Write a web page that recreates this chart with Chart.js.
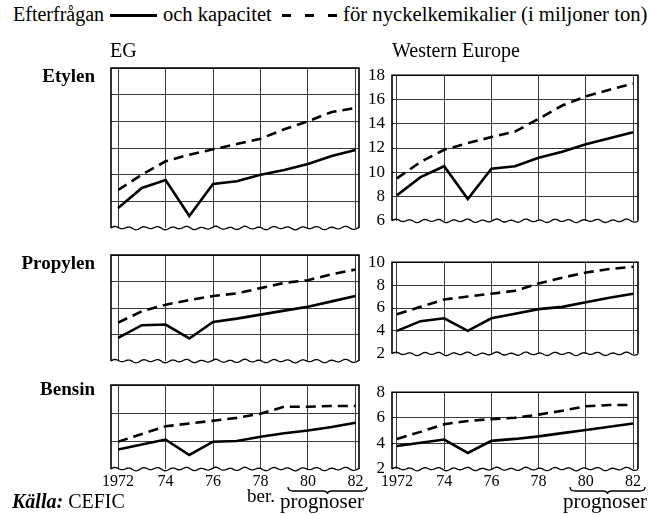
<!DOCTYPE html>
<html>
<head>
<meta charset="utf-8">
<script src="https://cdn.jsdelivr.net/npm/chart.js@4.4.1/dist/chart.umd.min.js"></script>
<style>
  body { margin: 0; background: #fff; }
  #wrap { position: relative; width: 651px; height: 515px; overflow: hidden; font-family: "Liberation Serif", Tinos, "Times New Roman", Times, "DejaVu Serif", serif; color: #000; }
  #wrap canvas { position: absolute; }
  .t { position: absolute; white-space: nowrap; line-height: 1; z-index: 2; }
  .row { font-weight: bold; font-size: 19px; text-align: right; width: 95px; left: 0; }
  .seg { position: absolute; background: #000; height: 3px; z-index: 2; }
  svg { position: absolute; left: 0; top: 0; z-index: 2; }
</style>
</head>
<body>
<div id="wrap">
  <div class="t" style="left:13px;top:4px;font-size:20px">Efterfrågan</div>
  <div class="seg" style="left:110px;top:14px;width:47px;height:2.5px"></div>
  <div class="t" style="left:163px;top:4px;font-size:20.5px">och kapacitet</div>
  <div class="seg" style="left:282px;top:14px;width:9px"></div>
  <div class="seg" style="left:305px;top:14px;width:9px"></div>
  <div class="seg" style="left:328px;top:14px;width:9px"></div>
  <div class="t" style="left:343px;top:4px;font-size:20.7px">för nyckelkemikalier (i miljoner ton)</div>

  <div class="t" style="left:110px;top:40px;font-size:20px">EG</div>
  <div class="t" style="left:392px;top:40px;font-size:20px">Western Europe</div>

  <div class="t row" style="top:66px">Etylen</div>
  <div class="t row" style="top:253px">Propylen</div>
  <div class="t row" style="top:379px">Bensin</div>

  <div class="t" style="left:12px;top:491px;font-size:20px"><b><i>Källa:</i></b> CEFIC</div>
  <div class="t" style="left:247px;top:486px;font-size:19px">ber.</div>
  <div class="t" style="left:280px;top:491px;font-size:21px">prognoser</div>
  <div class="t" style="left:563px;top:491px;font-size:21px">prognoser</div>

  <svg width="651" height="515">
    <path id="brace1" fill="none" stroke="#000" stroke-width="1.3"></path>
    <path id="brace2" fill="none" stroke="#000" stroke-width="1.3"></path>
  </svg>

  <canvas id="egEt"></canvas>
  <canvas id="weEt"></canvas>
  <canvas id="egPr"></canvas>
  <canvas id="wePr"></canvas>
  <canvas id="egBe"></canvas>
  <canvas id="weBe"></canvas>
</div>

<script>
const years = [1972, 1973, 1974, 1975, 1976, 1977, 1978, 1979, 1980, 1981, 1982];
const xTicks = [1972, 1974, 1976, 1978, 1980, 1982];

// Etylen
const egEtylenDemand   = [7.5, 9.0, 9.6, 6.9, 9.3, 9.5, 10.0, 10.35, 10.8, 11.4, 11.85];
const egEtylenCapacity = [8.85, 10.0, 11.0, 11.5, 11.9, 12.3, 12.7, 13.4, 14.0, 14.7, 15.0];
const weEtylenDemand   = [8.1, 9.6, 10.5, 7.8, 10.3, 10.5, 11.2, 11.7, 12.3, 12.8, 13.3];
const weEtylenCapacity = [9.5, 10.85, 11.85, 12.4, 12.9, 13.35, 14.4, 15.5, 16.25, 16.8, 17.3];
const etylenTicks = [6, 8, 10, 12, 14, 16, 18];

// Propylen
const egPropylenDemand   = [3.75, 4.7, 4.75, 3.7, 4.95, 5.2, 5.5, 5.8, 6.1, 6.5, 6.9];
const egPropylenCapacity = [4.9, 5.75, 6.25, 6.6, 6.9, 7.1, 7.5, 7.9, 8.1, 8.55, 8.9];
const wePropylenDemand   = [4.0, 4.85, 5.1, 4.0, 5.1, 5.5, 5.9, 6.1, 6.5, 6.9, 7.25];
const wePropylenCapacity = [5.45, 6.1, 6.75, 7.0, 7.25, 7.5, 8.15, 8.65, 9.1, 9.4, 9.6];
const propylenTicks = [2, 4, 6, 8, 10];

// Bensin
const egBensinDemand   = [3.4, 3.75, 4.1, 3.0, 3.95, 4.0, 4.3, 4.55, 4.75, 5.0, 5.3];
const egBensinCapacity = [3.95, 4.5, 5.05, 5.25, 5.45, 5.65, 5.95, 6.45, 6.45, 6.5, 6.5];
const weBensinDemand   = [3.8, 4.05, 4.3, 3.25, 4.2, 4.35, 4.55, 4.8, 5.05, 5.3, 5.55];
const weBensinCapacity = [4.35, 4.9, 5.5, 5.75, 5.9, 6.0, 6.25, 6.55, 6.9, 7.0, 7.0];
const bensinTicks = [2, 4, 6, 8];

const FONT = '"Liberation Serif", Tinos, "Times New Roman", Times, "DejaVu Serif", serif';

// frame: left/top/right straight, bottom wavy (broken axis)
const framePlugin = {
  id: 'frame',
  afterDatasetsDraw(chart) {
    const { ctx, chartArea: a } = chart;
    ctx.save();
    ctx.strokeStyle = '#000';
    ctx.lineWidth = 1.6;
    ctx.beginPath();
    ctx.moveTo(a.left, a.bottom);
    ctx.lineTo(a.left, a.top);
    ctx.lineTo(a.right, a.top);
    ctx.lineTo(a.right, a.bottom);
    ctx.stroke();
    ctx.lineWidth = 1.3;
    ctx.beginPath();
    for (let x = a.left; x <= a.right; x += 1) {
      const y = a.bottom - 1.2 * Math.sin((x - a.left) / 2.3) - 0.6 * Math.sin((x - a.left) / 5.1);
      if (x === a.left) ctx.moveTo(x, y); else ctx.lineTo(x, y);
    }
    ctx.stroke();
    ctx.restore();
  }
};

function makePanel(id, o) {
  const padL = o.labelsY ? 0 : 24;
  const yw = o.labelsY ? 36 : 0;
  const xh = o.labelsX ? 26 : 0;
  const padT = 10, padB = 10, padR = 8;
  const el = document.getElementById(id);
  el.width = padL + yw + (o.right - o.left) + padR;
  el.height = padT + (o.bottom - o.top) + xh + padB;
  el.style.left = (o.left - yw - padL) + 'px';
  el.style.top = (o.top - padT) + 'px';

  new Chart(el, {
    type: 'line',
    data: {
      datasets: [
        {
          data: years.map((y, i) => ({ x: y, y: o.demand[i] })),
          borderColor: '#000', borderWidth: 2.6, pointRadius: 0, tension: 0
        },
        {
          data: years.map((y, i) => ({ x: y, y: o.capacity[i] })),
          borderColor: '#000', borderWidth: 2.6, borderDash: [10, 6], pointRadius: 0, tension: 0
        }
      ]
    },
    options: {
      responsive: false,
      animation: false,
      devicePixelRatio: 1,
      layout: { padding: { left: padL, right: padR, top: padT, bottom: padB } },
      plugins: { legend: { display: false }, tooltip: { enabled: false } },
      scales: {
        x: {
          type: 'linear',
          min: o.xmin, max: o.xmax,
          afterBuildTicks: s => { s.ticks = xTicks.map(v => ({ value: v })); },
          afterFit: s => { s.height = xh; },
          border: { display: false },
          grid: { color: '#3a3a3a', lineWidth: 1, drawTicks: false },
          ticks: {
            display: o.labelsX,
            padding: 3,
            maxRotation: 0,
            autoSkip: false,
            color: '#000',
            font: { family: FONT, size: 16 },
            callback: v => v === 1972 ? '1972' : String(v).slice(2)
          }
        },
        y: {
          min: o.ticks[0], max: o.ticks[o.ticks.length - 1],
          afterBuildTicks: s => { s.ticks = o.ticks.map(v => ({ value: v })); },
          afterFit: s => { s.width = yw; },
          border: { display: false },
          grid: {
            drawTicks: false, lineWidth: 1,
            color: c => c.tick && c.tick.value === o.ticks[0] ? 'rgba(0,0,0,0)' : '#3a3a3a'
          },
          ticks: {
            display: o.labelsY,
            padding: 7,
            color: '#000',
            font: { family: FONT, size: 17 }
          }
        }
      }
    },
    plugins: [framePlugin]
  });
}

const EG = { left: 111, right: 359, xmin: 1971.7, xmax: 1982.15, labelsY: false };
const WE = { left: 392, right: 638, xmin: 1971.79, xmax: 1982.21, labelsY: true };
const TOP = { top: 68, bottom: 228, labelsX: false };
const MID = { top: 255, bottom: 361, labelsX: false };
const BOT = { top: 385, bottom: 469, labelsX: true };

makePanel('egEt', { ...EG, ...TOP, demand: egEtylenDemand, capacity: egEtylenCapacity, ticks: etylenTicks });
makePanel('weEt', { ...WE, ...TOP, demand: weEtylenDemand, capacity: weEtylenCapacity, ticks: etylenTicks });
makePanel('egPr', { ...EG, ...MID, demand: egPropylenDemand, capacity: egPropylenCapacity, ticks: propylenTicks });
makePanel('wePr', { ...WE, ...MID, demand: wePropylenDemand, capacity: wePropylenCapacity, ticks: propylenTicks });
makePanel('egBe', { ...EG, ...BOT, demand: egBensinDemand, capacity: egBensinCapacity, ticks: bensinTicks });
makePanel('weBe', { ...WE, ...BOT, demand: weBensinDemand, capacity: weBensinCapacity, ticks: bensinTicks });

// underbraces for "prognoser"
function brace(x1, x2, y0, d) {
  const m = (x1 + x2) / 2, y1 = y0 + d, y2 = y0 + d + 3, r = 5;
  return `M${x1} ${y0} Q${x1} ${y1} ${x1 + r} ${y1} L${m - r} ${y1} Q${m} ${y1} ${m} ${y2} ` +
         `Q${m} ${y1} ${m + r} ${y1} L${x2 - r} ${y1} Q${x2} ${y1} ${x2} ${y0}`;
}
document.getElementById('brace1').setAttribute('d', brace(288, 367, 487, 4));
document.getElementById('brace2').setAttribute('d', brace(570, 645, 487, 4));
</script>
</body>
</html>
